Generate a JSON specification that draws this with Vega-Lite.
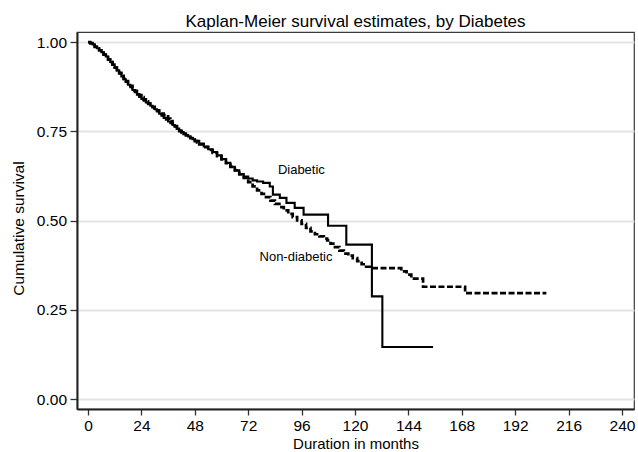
{
  "$schema": "https://vega.github.io/schema/vega-lite/v6.json",
  "width": 557,
  "height": 377,
  "autosize": {"type": "none"},
  "padding": {"left": 77, "top": 32, "right": 4, "bottom": 43},
  "background": "white",
  "config": {
    "font": "Liberation Sans",
    "view": {"stroke": "#3a3a3a", "strokeWidth": 1.2},
    "axis": {
      "labelFont": "Liberation Sans",
      "titleFont": "Liberation Sans",
      "labelColor": "black",
      "titleColor": "black",
      "labelFontSize": 15.5,
      "titleFontSize": 15.5,
      "titleFontWeight": "normal",
      "domainColor": "#222222",
      "domainWidth": 2,
      "tickColor": "#333333",
      "tickWidth": 1.3
    }
  },
  "title": {
    "text": "Kaplan-Meier survival estimates, by Diabetes",
    "fontSize": 17,
    "fontWeight": "normal",
    "font": "Liberation Sans",
    "color": "black",
    "anchor": "middle",
    "frame": "group",
    "baseline": "alphabetic",
    "offset": 4,
    "dy": 16
  },
  "layer": [
    {
      "data": {
        "values": [
          {"g":"Non-diabetic","t":0,"s":1.000},{"g":"Non-diabetic","t":1,"s":0.997},{"g":"Non-diabetic","t":2,"s":0.992},{"g":"Non-diabetic","t":3,"s":0.987},{"g":"Non-diabetic","t":4,"s":0.982},{"g":"Non-diabetic","t":5,"s":0.977},{"g":"Non-diabetic","t":6,"s":0.971},{"g":"Non-diabetic","t":7,"s":0.965},{"g":"Non-diabetic","t":8,"s":0.958},{"g":"Non-diabetic","t":9,"s":0.951},{"g":"Non-diabetic","t":10,"s":0.944},{"g":"Non-diabetic","t":11,"s":0.937},{"g":"Non-diabetic","t":12,"s":0.929},{"g":"Non-diabetic","t":13,"s":0.922},{"g":"Non-diabetic","t":14,"s":0.914},{"g":"Non-diabetic","t":15,"s":0.906},{"g":"Non-diabetic","t":16,"s":0.898},{"g":"Non-diabetic","t":17,"s":0.891},{"g":"Non-diabetic","t":18,"s":0.884},{"g":"Non-diabetic","t":19,"s":0.878},{"g":"Non-diabetic","t":20,"s":0.871},{"g":"Non-diabetic","t":21,"s":0.864},{"g":"Non-diabetic","t":22,"s":0.858},{"g":"Non-diabetic","t":23,"s":0.852},{"g":"Non-diabetic","t":24,"s":0.846},{"g":"Non-diabetic","t":25,"s":0.840},{"g":"Non-diabetic","t":26,"s":0.834},{"g":"Non-diabetic","t":27,"s":0.829},{"g":"Non-diabetic","t":28,"s":0.824},{"g":"Non-diabetic","t":29,"s":0.819},{"g":"Non-diabetic","t":30,"s":0.814},{"g":"Non-diabetic","t":31,"s":0.809},{"g":"Non-diabetic","t":32,"s":0.804},{"g":"Non-diabetic","t":33,"s":0.800},{"g":"Non-diabetic","t":34,"s":0.796},{"g":"Non-diabetic","t":35,"s":0.792},{"g":"Non-diabetic","t":36,"s":0.786},{"g":"Non-diabetic","t":37,"s":0.779},{"g":"Non-diabetic","t":38,"s":0.772},{"g":"Non-diabetic","t":39,"s":0.765},{"g":"Non-diabetic","t":40,"s":0.758},{"g":"Non-diabetic","t":41,"s":0.751},{"g":"Non-diabetic","t":42,"s":0.747},{"g":"Non-diabetic","t":43,"s":0.743},{"g":"Non-diabetic","t":44,"s":0.739},{"g":"Non-diabetic","t":45,"s":0.735},{"g":"Non-diabetic","t":46,"s":0.731},{"g":"Non-diabetic","t":47,"s":0.727},{"g":"Non-diabetic","t":48,"s":0.723},{"g":"Non-diabetic","t":49,"s":0.719},{"g":"Non-diabetic","t":50,"s":0.714},{"g":"Non-diabetic","t":52,"s":0.706},{"g":"Non-diabetic","t":54,"s":0.698},{"g":"Non-diabetic","t":56,"s":0.690},{"g":"Non-diabetic","t":58,"s":0.681},{"g":"Non-diabetic","t":60,"s":0.672},{"g":"Non-diabetic","t":62,"s":0.661},{"g":"Non-diabetic","t":64,"s":0.651},{"g":"Non-diabetic","t":66,"s":0.641},{"g":"Non-diabetic","t":68,"s":0.630},{"g":"Non-diabetic","t":70,"s":0.620},{"g":"Non-diabetic","t":72,"s":0.608},{"g":"Non-diabetic","t":74,"s":0.596},{"g":"Non-diabetic","t":76,"s":0.585},{"g":"Non-diabetic","t":78,"s":0.575},{"g":"Non-diabetic","t":80,"s":0.566},{"g":"Non-diabetic","t":82,"s":0.556},{"g":"Non-diabetic","t":84,"s":0.547},{"g":"Non-diabetic","t":86,"s":0.538},{"g":"Non-diabetic","t":88,"s":0.529},{"g":"Non-diabetic","t":90,"s":0.519},{"g":"Non-diabetic","t":92,"s":0.510},{"g":"Non-diabetic","t":94,"s":0.501},{"g":"Non-diabetic","t":96,"s":0.491},{"g":"Non-diabetic","t":98,"s":0.480},{"g":"Non-diabetic","t":100,"s":0.470},{"g":"Non-diabetic","t":102,"s":0.462},{"g":"Non-diabetic","t":104,"s":0.456},{"g":"Non-diabetic","t":106,"s":0.450},{"g":"Non-diabetic","t":107.5,"s":0.445},{"g":"Non-diabetic","t":109,"s":0.436},{"g":"Non-diabetic","t":111,"s":0.426},{"g":"Non-diabetic","t":113,"s":0.416},{"g":"Non-diabetic","t":115,"s":0.408},{"g":"Non-diabetic","t":117,"s":0.402},{"g":"Non-diabetic","t":119,"s":0.395},{"g":"Non-diabetic","t":121,"s":0.387},{"g":"Non-diabetic","t":123,"s":0.378},{"g":"Non-diabetic","t":125,"s":0.371},{"g":"Non-diabetic","t":127.4,"s":0.367},{"g":"Non-diabetic","t":140.8,"s":0.358},{"g":"Non-diabetic","t":143.2,"s":0.349},{"g":"Non-diabetic","t":145.3,"s":0.338},{"g":"Non-diabetic","t":150.6,"s":0.315},{"g":"Non-diabetic","t":169.5,"s":0.297},{"g":"Non-diabetic","t":206,"s":0.297},
          {"g":"Diabetic","t":0,"s":1.000},{"g":"Diabetic","t":1,"s":0.998},{"g":"Diabetic","t":2,"s":0.994},{"g":"Diabetic","t":3,"s":0.988},{"g":"Diabetic","t":4,"s":0.983},{"g":"Diabetic","t":5,"s":0.978},{"g":"Diabetic","t":6,"s":0.972},{"g":"Diabetic","t":7,"s":0.966},{"g":"Diabetic","t":8,"s":0.960},{"g":"Diabetic","t":9,"s":0.952},{"g":"Diabetic","t":10,"s":0.945},{"g":"Diabetic","t":11,"s":0.938},{"g":"Diabetic","t":12,"s":0.930},{"g":"Diabetic","t":13,"s":0.921},{"g":"Diabetic","t":14,"s":0.912},{"g":"Diabetic","t":15,"s":0.904},{"g":"Diabetic","t":16,"s":0.896},{"g":"Diabetic","t":17,"s":0.889},{"g":"Diabetic","t":18,"s":0.881},{"g":"Diabetic","t":19,"s":0.874},{"g":"Diabetic","t":20,"s":0.866},{"g":"Diabetic","t":21,"s":0.860},{"g":"Diabetic","t":22,"s":0.853},{"g":"Diabetic","t":23,"s":0.847},{"g":"Diabetic","t":24,"s":0.841},{"g":"Diabetic","t":25,"s":0.836},{"g":"Diabetic","t":26,"s":0.831},{"g":"Diabetic","t":27,"s":0.826},{"g":"Diabetic","t":28,"s":0.822},{"g":"Diabetic","t":29,"s":0.817},{"g":"Diabetic","t":30,"s":0.812},{"g":"Diabetic","t":31,"s":0.806},{"g":"Diabetic","t":32,"s":0.800},{"g":"Diabetic","t":33,"s":0.794},{"g":"Diabetic","t":34,"s":0.788},{"g":"Diabetic","t":35,"s":0.783},{"g":"Diabetic","t":36,"s":0.778},{"g":"Diabetic","t":37,"s":0.773},{"g":"Diabetic","t":38,"s":0.768},{"g":"Diabetic","t":39,"s":0.763},{"g":"Diabetic","t":40,"s":0.758},{"g":"Diabetic","t":41,"s":0.753},{"g":"Diabetic","t":42,"s":0.748},{"g":"Diabetic","t":43,"s":0.744},{"g":"Diabetic","t":44,"s":0.740},{"g":"Diabetic","t":45,"s":0.736},{"g":"Diabetic","t":46,"s":0.732},{"g":"Diabetic","t":47,"s":0.728},{"g":"Diabetic","t":48,"s":0.724},{"g":"Diabetic","t":50,"s":0.716},{"g":"Diabetic","t":52,"s":0.708},{"g":"Diabetic","t":54,"s":0.700},{"g":"Diabetic","t":56,"s":0.692},{"g":"Diabetic","t":58,"s":0.683},{"g":"Diabetic","t":60,"s":0.673},{"g":"Diabetic","t":62,"s":0.662},{"g":"Diabetic","t":64,"s":0.651},{"g":"Diabetic","t":66,"s":0.641},{"g":"Diabetic","t":68,"s":0.631},{"g":"Diabetic","t":70,"s":0.624},{"g":"Diabetic","t":72,"s":0.618},{"g":"Diabetic","t":74,"s":0.613},{"g":"Diabetic","t":76,"s":0.610},{"g":"Diabetic","t":78.7,"s":0.606},{"g":"Diabetic","t":81.7,"s":0.596},{"g":"Diabetic","t":83.1,"s":0.573},{"g":"Diabetic","t":86.2,"s":0.564},{"g":"Diabetic","t":89.2,"s":0.550},{"g":"Diabetic","t":92.9,"s":0.536},{"g":"Diabetic","t":96.9,"s":0.517},{"g":"Diabetic","t":107.9,"s":0.486},{"g":"Diabetic","t":116.1,"s":0.433},{"g":"Diabetic","t":127.6,"s":0.288},{"g":"Diabetic","t":132.3,"s":0.146},{"g":"Diabetic","t":155.1,"s":0.146}
        ]
      },
      "mark": {"type": "line", "interpolate": "step-after", "color": "black", "clip": true},
      "encoding": {
        "x": {
          "field": "t", "type": "quantitative",
          "scale": {"domain": [-4.94, 245.4], "nice": false, "zero": false},
          "axis": {
            "values": [0,24,48,72,96,120,144,168,192,216,240],
            "grid": false,
            "title": "Duration in months",
            "titleFontSize": 15,
            "tickSize": 6,
            "labelPadding": 15.5,
            "labelBaseline": "alphabetic",
            "titleBaseline": "alphabetic",
            "titleY": 39.5,
            "labelFlush": false,
            "labelOverlap": false
          }
        },
        "y": {
          "field": "s", "type": "quantitative",
          "scale": {"domain": [-0.0275, 1.0286], "nice": false, "zero": false},
          "axis": {
            "values": [0,0.25,0.5,0.75,1],
            "format": ".2f",
            "grid": true,
            "gridColor": "#e3e3e3",
            "gridWidth": 1.8,
            "title": "Cumulative survival",
            "tickSize": 7,
            "labelPadding": 3.5,
            "labelBaseline": "middle",
            "titleX": -59,
            "titleY": 196,
            "titleBaseline": "middle",
            "titleAlign": "center",
            "labelFlush": false,
            "labelOverlap": false
          }
        },
        "detail": {"field": "g"},
        "strokeDash": {
          "field": "g", "type": "nominal",
          "scale": {"domain": ["Diabetic","Non-diabetic"], "range": [[1,0],[6,2.5]]},
          "legend": null
        },
        "strokeWidth": {
          "field": "g", "type": "nominal",
          "scale": {"domain": ["Diabetic","Non-diabetic"], "range": [2.1,2.7]},
          "legend": null
        }
      }
    },
    {
      "data": {
        "values": [
          {"label": "Diabetic", "t": 95.9, "s": 0.643},
          {"label": "Non-diabetic", "t": 93.5, "s": 0.397}
        ]
      },
      "mark": {"type": "text", "fontSize": 13, "font": "Liberation Sans", "color": "black", "align": "center", "baseline": "middle"},
      "encoding": {
        "x": {"field": "t", "type": "quantitative"},
        "y": {"field": "s", "type": "quantitative"},
        "text": {"field": "label"}
      }
    }
  ]
}
